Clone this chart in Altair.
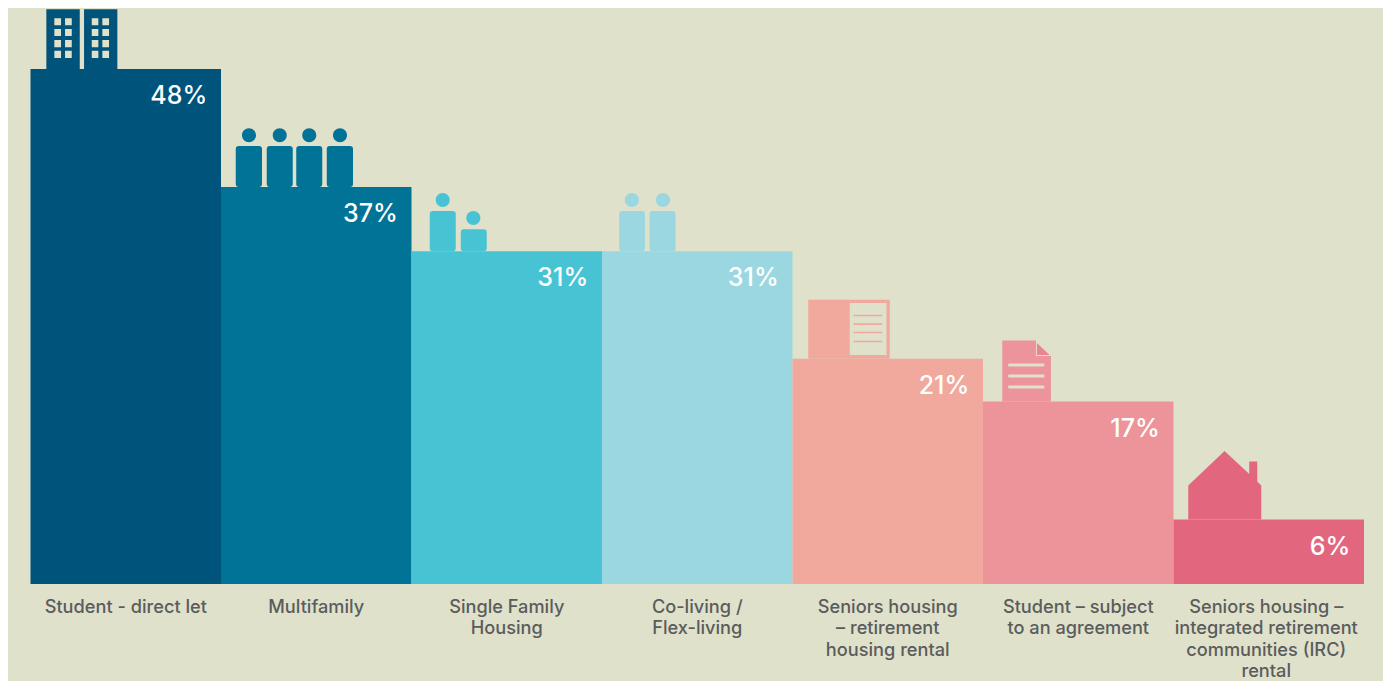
import altair as alt
import pandas as pd

categories = [
    "Student - direct let",
    "Multifamily",
    "Single Family|Housing",
    "Co-living /|Flex-living",
    "Seniors housing|– retirement|housing rental",
    "Student – subject|to an agreement",
    "Seniors housing –|integrated retirement|communities (IRC)|rental",
]
values = [48, 37, 31, 31, 21, 17, 6]
colors = ["#00537A", "#007397", "#48C3D4", "#9AD7E1", "#F0A99C", "#EC9499", "#E3667F"]
BG = "#DFE1CB"
TEXT = "#5B5C5C"


def box(x0, y0, x1, y1, hole=False):
    if hole:
        return f"M{x0},{y0}V{y1}H{x1}V{y0}Z"
    return f"M{x0},{y0}H{x1}V{y1}H{x0}Z"


def body(x0, x1, top, r=3):
    return (f"M{x0},{top + r}Q{x0},{top} {x0 + r},{top}H{x1 - r}Q{x1},{top} {x1},{top + r}"
            f"V{-r}Q{x1},0 {x1 - r},0H{x0 + r}Q{x0},0 {x0},{-r}Z")


def head(cx, cy, r=7):
    k = r * 0.5523
    return (f"M{cx - r},{cy}C{cx - r},{cy - k} {cx - k},{cy - r} {cx},{cy - r}"
            f"C{cx + k},{cy - r} {cx + r},{cy - k} {cx + r},{cy}"
            f"C{cx + r},{cy + k} {cx + k},{cy + r} {cx},{cy + r}"
            f"C{cx - k},{cy + r} {cx - r},{cy + k} {cx - r},{cy}Z")


def tower(x0, x1, win):
    out = box(x0, -59.7, x1, 0)
    for a, b in win:
        for t, u in [(-50.7, -43.7), (-40, -33), (-29, -21.7), (-18.3, -11)]:
            out += box(a, t, b, u, hole=True)
    return out


icon_towers = (tower(-79.4, -46, [(-71.4, -64.7), (-60.7, -54)])
               + tower(-41.7, -8.4, [(-34, -27.4), (-23.4, -16.7)]))
icon_four = "".join(body(a, b, -41) for a, b in [(-80.5, -54.25), (-49.5, -23.5), (-20, 6), (10.5, 36.75)]) \
    + "".join(head(c, -51.7) for c in [-67.25, -36.5, -7, 23.75])
icon_pair = body(-77, -51, -40.3) + body(-46, -20, -22) + head(-64, -51.3) + head(-33.4, -33.3)
icon_two = body(-78, -52.3, -40.3) + body(-47.7, -21.7, -40.3) + head(-65.3, -51.3) + head(-34.3, -51.3)
icon_book = box(-79.5, -59, 2, 0) + box(-38, -55.7, -1.25, -3.7, hole=True) + "".join(
    box(-34.3, y, -5.6, y + 1.7) for y in [-44, -35.4, -27, -18])
icon_page = "M-76,-61H-42.3V-45.7H-27.3V0H-76Z" + "".join(
    box(-70, y, -34, y + 3, hole=True) for y in [-38.2, -27.2, -16.2])
icon_house = "M-80.5,0V-34L-44.2,-68.7L-19.5,-45.7V-58H-11.5V-38L-7.5,-34V0Z"
icons = [icon_towers, icon_four, icon_pair, icon_two, icon_book, icon_page, icon_house]

df = pd.DataFrame({"category": categories, "value": values, "icon": icons})
df["label"] = df["value"].astype(str) + "%"

x = alt.X(
    "category:N",
    sort=categories,
    scale=alt.Scale(type="band", domain=categories, paddingInner=0, paddingOuter=0),
    axis=alt.Axis(
        title=None, domain=False, ticks=False, labelAngle=0, labelPadding=14,
        labelExpr="split(datum.value, '|')", labelFont="Inter", labelFontSize=18.2,
        labelFontWeight=500, labelColor=TEXT, labelLineHeight=21.6, labelLimit=400,
        labelOverlap=False, labelBaseline="top", labelAlign="center",
        labelOffset={"expr": "indexof(datum.value, 'integrated') >= 0 ? -2.5 : 0"},
    ),
)
y = alt.Y("value:Q", scale=alt.Scale(domain=[0, 53.68], nice=False), axis=None)
color = alt.Color("category:N", scale=alt.Scale(domain=categories, range=colors), legend=None)

bars = alt.Chart(df).mark_bar(size=190.5, strokeWidth=0).encode(x=x, y=y, color=color)
glyphs = alt.Chart(df).mark_point(filled=True, opacity=1, strokeWidth=0, size=4).encode(
    x=x, y=y, color=color, shape=alt.Shape("icon:N", scale=None)
)
fold = alt.Chart(df[df["value"] == 17]).mark_point(
    filled=True, opacity=1, strokeWidth=0, size=4, color="#E8858F",
    shape="M-41.3,-58.7L-28.7,-46.7H-41.3Z",
).encode(x=x, y=y)
labels = alt.Chart(df).mark_text(
    align="right", baseline="alphabetic", dx=81.5, dy=35, font="Inter", fontSize=25,
    fontWeight=500, color="#FFFFFF",
).encode(x=x, y=y, text="label:N")

chart = (
    alt.layer(bars, glyphs, fold, labels)
    .properties(
        width=1333.5, height=576, background=BG,
        autosize=alt.AutoSizeParams(type="none"),
        padding={"left": 22.5, "top": 0, "right": 19, "bottom": 97},
    )
    .configure_view(stroke=None)
)
chart.save("out.html", embed_options={"renderer": "svg", "actions": False})
